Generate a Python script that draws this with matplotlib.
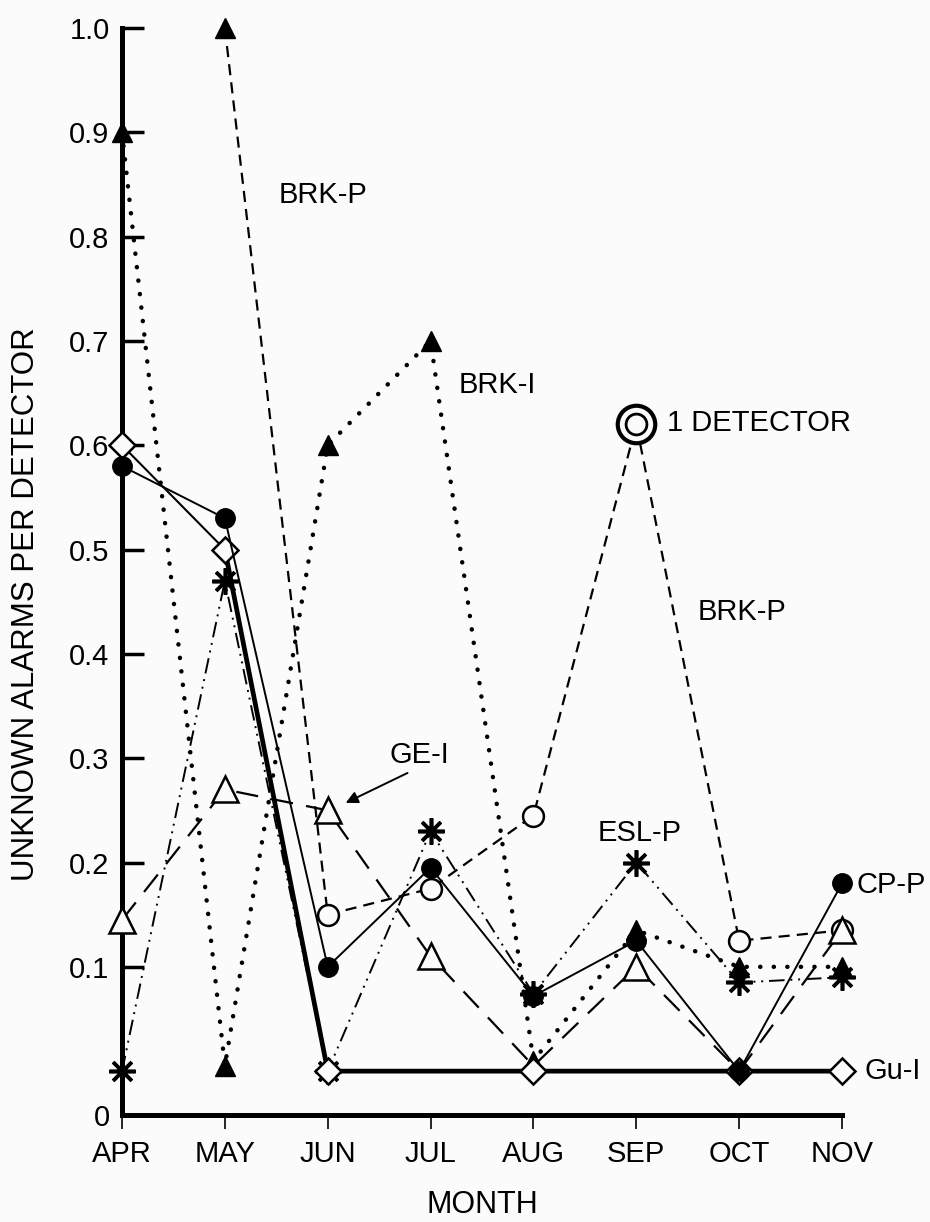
import numpy as np
import matplotlib.pyplot as plt

plt.rcParams['font.family'] = ['Liberation Sans', 'DejaVu Sans']

# data
months = ['APR', 'MAY', 'JUN', 'JUL', 'AUG', 'SEP', 'OCT', 'NOV']
brk_i = [0.90, 0.005, 0.60, 0.70, 0.01, 0.135, 0.10, 0.10]
brk_p = [np.nan, 1.00, 0.15, 0.175, 0.245, 0.62, 0.125, 0.135]
cp_p = [0.58, 0.53, 0.10, 0.195, 0.072, 0.125, 0.0, 0.18]
gu_i = [0.60, 0.50, 0.0, 0.0, 0.0, 0.0, 0.0, 0.0]
ge_i = [0.145, 0.27, 0.25, 0.11, 0.005, 0.10, 0.0, 0.135]
esl_p = [0.0, 0.47, 0.0, 0.23, 0.074, 0.20, 0.085, 0.09]

yticks = [0.1, 0.2, 0.3, 0.4, 0.5, 0.6, 0.7, 0.8, 0.9, 1.0]
ytick_labels = ['0.1', '0.2', '0.3', '0.4', '0.5', '0.6', '0.7', '0.8', '0.9', '1.0']

bg = '#fbfbfb'
x = np.arange(len(months))
y_floor = -0.042

fig = plt.figure(figsize=(9.3, 12.22), dpi=100, facecolor=bg)
ax = fig.add_axes([0.1312, 0.0876, 0.7742, 0.8895], facecolor=bg)

mk = dict(clip_on=False, color='black', markeredgecolor='black')

# BRK-I dotted, filled triangles
ax.plot(x, brk_i, ls=(0, (0.05, 3.0)), lw=3.2, dash_capstyle='round',
        marker='^', ms=14, markerfacecolor='black', zorder=3, **mk)
# BRK-P dashed, open circles, arrow off scale in MAY, 1 detector in SEP
ax.plot(x, brk_p, ls=(0, (5, 3.2)), lw=1.6, marker='o', ms=15, mew=1.8,
        markerfacecolor=bg, markevery=[2, 3, 4, 6, 7], zorder=3, **mk)
ax.plot(x[1], brk_p[1], marker='^', ms=15, markerfacecolor='black', zorder=3, **mk)
ax.plot(x[5], brk_p[5], marker='o', ms=27, mew=3, markerfacecolor=bg, zorder=4, **mk)
ax.plot(x[5], brk_p[5], marker='o', ms=15, mew=2, markerfacecolor=bg, zorder=4, **mk)
# ESL-P dash-dot-dot, asterisks
ax.plot(x, esl_p, ls=(0, (8, 3, 1, 3, 1, 3)), lw=1.4, marker=(8, 2, 0), ms=19,
        mew=2.6, zorder=4, **mk)
# GE-I long dashes, open triangles
ax.plot(x, ge_i, ls=(0, (10, 6)), lw=1.6, marker='^', ms=19, mew=1.8,
        markerfacecolor=bg, markevery=[0, 1, 2, 3, 5, 7], zorder=4, **mk)
# Gu-I solid, open diamonds
ax.plot(x[:2], gu_i[:2], lw=1.5, zorder=5, **mk)
ax.plot(x[1:], gu_i[1:], lw=3.4, zorder=5, **mk)
ax.plot(x, gu_i, ls='none', marker='D', ms=13, mew=1.8, markerfacecolor=bg,
        markevery=[0, 1, 2, 4, 6, 7], zorder=6, **mk)
# CP-P solid, filled circles
ax.plot(x, cp_p, lw=1.4, marker='o', ms=14, markerfacecolor='black', zorder=6, **mk)

ax.set_xlim(0, 7)
ax.set_ylim(y_floor, 1.0)
ax.set_xticks(x)
ax.set_xticklabels(months, fontsize=21)
ax.set_yticks([y_floor] + yticks)
ax.set_yticklabels(['0'] + ytick_labels, fontsize=21)
ax.tick_params(axis='y', direction='in', length=16, width=2.5, pad=9)
ax.tick_params(axis='x', direction='out', length=10, width=1.2, pad=8)
for s in ['top', 'right']:
    ax.spines[s].set_visible(False)
ax.spines['left'].set_linewidth(3.6)
ax.spines['bottom'].set_linewidth(3.6)

ax.set_xlabel('MONTH', fontsize=22, labelpad=16)
ax.set_ylabel('UNKNOWN ALARMS PER DETECTOR', fontsize=22.5, labelpad=8)
ax.yaxis.set_label_coords(-0.112, 0.47)

# series labels
lab = dict(fontsize=21, va='center', ha='left', clip_on=False)
ax.text(1.52, 0.84, 'BRK-P', **lab)
ax.text(3.27, 0.658, 'BRK-I', **lab)
ax.text(5.3, 0.621, '1 DETECTOR', **lab)
ax.text(5.6, 0.44, 'BRK-P', **lab)
ax.text(2.6, 0.303, 'GE-I', **lab)
ax.text(4.62, 0.228, 'ESL-P', **lab)
ax.text(7.14, 0.178, 'CP-P', **lab)
ax.text(7.22, 0.0, 'Gu-I', **lab)
ax.annotate('', xy=(2.15, 0.256), xytext=(2.8, 0.287),
            arrowprops=dict(arrowstyle='-|>', color='black', lw=1.4, mutation_scale=18))

fig.savefig('out.png', dpi=100, facecolor=bg)
